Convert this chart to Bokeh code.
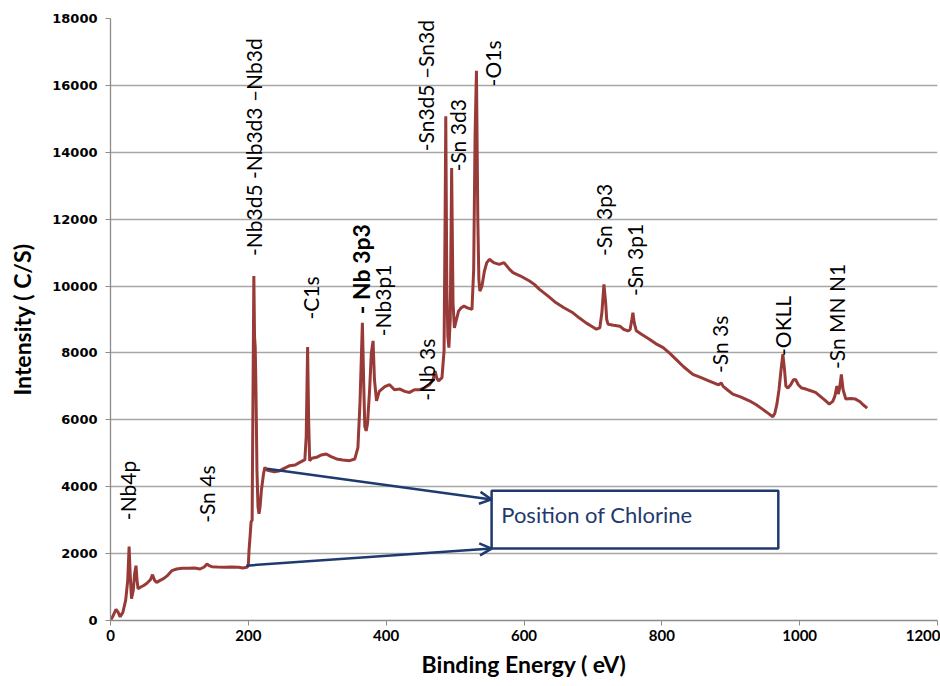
from bokeh.plotting import figure
from bokeh.models import Range1d, FixedTicker, Arrow, OpenHead, ColumnDataSource
from bokeh.core.properties import value
from bokeh.embed import file_html
from bokeh.resources import INLINE

# ---- data ----
energy = [0, 4, 8, 11, 14, 18, 22, 25, 27, 28.5, 30.5, 33, 35, 37, 38.5, 40, 44, 47.5, 52, 55,
          58, 61, 64, 67, 72, 77, 83, 89, 96, 104, 113, 122, 130, 136, 140, 143, 147, 155, 166, 175,
          186, 192, 198, 200, 201, 202.5, 204, 205.5, 206.5, 208, 209, 210, 211, 212.5, 214, 215.5,
          217, 219, 222, 224, 227, 231, 238, 245.6, 252, 260, 268, 274, 279.5, 282, 284, 286, 287.5,
          289, 292, 299, 306, 313, 320, 328, 337, 347, 354.5, 359, 362, 365.5, 367.5, 369, 371, 373,
          376, 378.5, 381, 383, 386, 390, 398, 405, 412, 420, 427, 434, 441, 448, 455, 463, 468, 471,
          473.5, 476, 481, 484, 485.5, 486.5, 488, 489.5, 491, 493, 495, 497, 499, 502, 505, 509, 513,
          518, 524.5, 527, 529, 531, 533, 534.5, 536, 539, 542.6, 546, 549.8, 556, 564, 571, 579, 584,
          595, 608, 615, 622.5, 635, 646.6, 658, 671, 680, 690, 698, 705, 710, 713, 716, 718.5, 720,
          722, 730, 739, 745, 751, 754, 756.5, 758, 760, 763, 771, 782, 791, 802, 812, 821, 832, 845,
          857, 869, 878, 883, 886, 889, 895, 903, 915, 927, 937, 946, 954, 961, 964, 967, 970, 973,
          975.6, 978, 980, 983, 987, 991, 994, 998, 1003, 1009, 1016, 1023, 1030, 1037, 1043, 1048,
          1051, 1054, 1056, 1058, 1060.5, 1063, 1067, 1074, 1081, 1087, 1092, 1098]
counts = [0, 150, 330, 250, 110, 250, 600, 1200, 2210, 1400, 650, 900, 1400, 1640, 1200, 950, 1000,
          1040, 1100, 1160, 1220, 1370, 1200, 1140, 1200, 1250, 1350, 1490, 1540, 1560, 1560, 1570,
          1540, 1600, 1690, 1640, 1610, 1600, 1590, 1600, 1590, 1570, 1590, 1650, 2100, 2500, 2950,
          3000, 6000, 10300, 8500, 8160, 7000, 4500, 3400, 3190, 3400, 3900, 4380, 4580, 4500, 4480,
          4450, 4480, 4550, 4630, 4650, 4720, 4780, 4800, 5500, 8180, 6000, 4780, 4850, 4880, 4950,
          4980, 4900, 4830, 4800, 4780, 4830, 5170, 6500, 8900, 7000, 5800, 5670, 5900, 6900, 8000,
          8360, 7200, 6570, 6850, 6990, 7050, 6900, 6920, 6850, 6820, 6900, 6900, 6950, 7050, 7200,
          7460, 7250, 7160, 7260, 8060, 12000, 15080, 10000, 8500, 8160, 9000, 13530, 9500, 8750,
          9000, 9250, 9350, 9400, 9350, 9300, 10500, 14500, 16440, 12000, 10200, 9850, 10000, 10450,
          10700, 10800, 10700, 10650, 10700, 10500, 10400, 10300, 10150, 10050, 9900, 9700, 9500,
          9350, 9200, 9050, 8900, 8800, 8710, 8750, 9200, 10050, 9500, 9000, 8860, 8830, 8800, 8700,
          8660, 8700, 9000, 9200, 8900, 8660, 8550, 8410, 8280, 8160, 7980, 7800, 7580, 7360, 7260,
          7160, 7080, 7050, 7110, 7000, 6900, 6770, 6680, 6570, 6450, 6320, 6200, 6090, 6200, 6470,
          6900, 7500, 7960, 7500, 7010, 6950, 7050, 7200, 7210, 7050, 6950, 6920, 6870, 6820, 6700,
          6580, 6470, 6550, 6700, 7010, 6770, 6950, 7360, 6900, 6620, 6640, 6620, 6550, 6450, 6350]

peak_labels = ["-Nb4p", "-Sn 4s", "-Nb3d5 -Nb3d3 \u2013Nb3d", "-C1s", "-Nb3p1", "-Nb 3s",
               "-Sn3d5 \u2013Sn3d", "-Sn 3d3", "-O1s", "-Sn 3p3", "-Sn 3p1", "-Sn 3s", "-OKLL",
               "-Sn MN N1"]
peak_label_x = [25, 139, 207, 290, 395, 459, 457, 504, 554, 716, 761, 884, 975, 1054]
peak_label_y = [3000, 2920, 10900, 9000, 8500, 6570, 14030, 13430, 15970, 10900, 9700, 7400, 7910, 7520]

big_label = "- Nb 3p3"
big_label_x = [363]
big_label_y = [9160]

x_ticks = [0, 200, 400, 600, 800, 1000, 1200]
y_ticks = [0, 2000, 4000, 6000, 8000, 10000, 12000, 14000, 16000, 18000]

# chlorine annotation (data coordinates)
arrow_starts = [(227, 4540), (197, 1640)]
arrow_ends = [(553, 3620), (553, 2150)]
box_left, box_right, box_bottom, box_top = 553, 969, 2150, 3880
box_text = "Position  of  Chlorine"

NAVY = "#1F3A6E"
RED = "#983A37"
FONT = "Lato"

p = figure(width=940, height=686, output_backend="svg", toolbar_location=None,
           x_range=Range1d(0, 1200), y_range=Range1d(0, 18000),
           min_border_left=110, min_border_right=3, min_border_top=18, min_border_bottom=66)
p.outline_line_color = None
p.background_fill_color = "white"
p.border_fill_color = "white"

p.xgrid.grid_line_color = None
p.ygrid.grid_line_color = "#A6A6A6"
p.ygrid.grid_line_width = 1.3

p.xaxis.ticker = FixedTicker(ticks=x_ticks)
p.yaxis.ticker = FixedTicker(ticks=y_ticks)
for ax in (p.xaxis[0], p.yaxis[0]):
    ax.axis_line_color = "#8C8C8C"
    ax.axis_line_width = 1.3
    ax.major_tick_line_color = "#8C8C8C"
    ax.major_tick_out = 5
    ax.major_tick_in = 0
    ax.minor_tick_line_color = None
    ax.major_label_text_color = "black"
    ax.major_label_text_font_style = "bold"
    ax.axis_label_text_font = FONT
    ax.axis_label_text_font_style = "bold"
    ax.axis_label_text_font_size = "23px"
    ax.axis_label_text_color = "black"

p.xaxis.major_label_text_font = FONT
p.xaxis.major_label_text_font_size = "15px"
p.xaxis.major_label_standoff = 4
p.xaxis.axis_label = "Binding Energy ( eV)"
p.xaxis.axis_label_standoff = 6

p.yaxis.major_label_text_font = "DejaVu Sans"
p.yaxis.major_label_text_font_size = "13px"
p.yaxis.major_label_standoff = 8
p.yaxis.axis_label = "Intensity ( C/S)"
p.yaxis.axis_label_standoff = 13

p.line(energy, counts, line_color=RED, line_width=3)

src = ColumnDataSource(dict(x=peak_label_x, y=peak_label_y, t=peak_labels))
p.text(x="x", y="y", text="t", source=src, angle=1.5708, text_align="left",
       text_baseline="middle", text_font=value(FONT), text_font_size="21px", text_color="black")
p.text(x=big_label_x, y=big_label_y, text=[big_label], angle=1.5708, text_align="left",
       text_baseline="middle", text_font=value(FONT), text_font_size="23px",
       text_font_style="bold", text_color="black")

for (xs, ys), (xe, ye) in zip(arrow_starts, arrow_ends):
    p.add_layout(Arrow(end=OpenHead(size=12, line_color=NAVY, line_width=2.5),
                       x_start=xs, y_start=ys, x_end=xe, y_end=ye,
                       line_color=NAVY, line_width=2.5))

p.quad(left=[box_left], right=[box_right], bottom=[box_bottom], top=[box_top],
       fill_color="white", line_color=NAVY, line_width=2.5)
p.text(x=[box_left + 14], y=[(box_bottom + box_top) / 2 + 150], text=[box_text],
       text_align="left", text_baseline="middle", text_font=value(FONT),
       text_font_size="22px", text_color=NAVY)

open("out.html", "w").write(file_html(p, INLINE))
